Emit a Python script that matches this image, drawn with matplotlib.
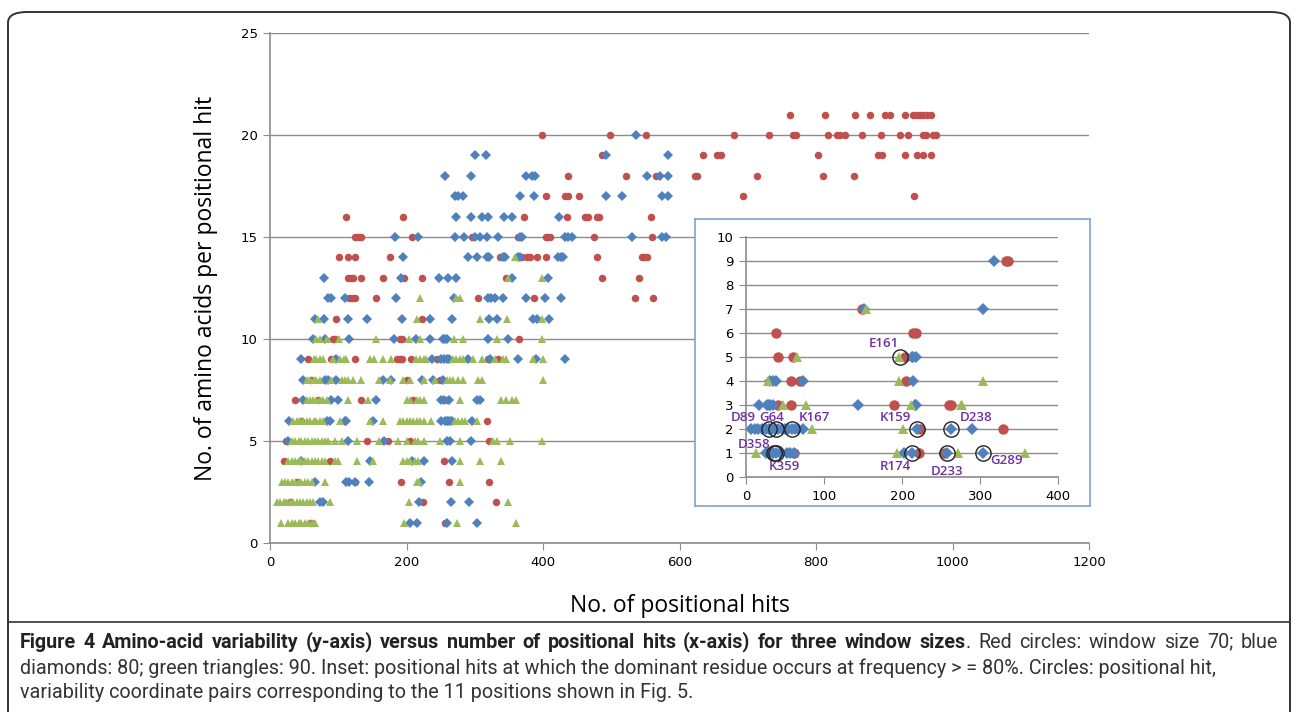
import matplotlib
matplotlib.use("Agg")
import matplotlib.pyplot as plt
from matplotlib.patches import FancyBboxPatch
from matplotlib.lines import Line2D
from matplotlib import font_manager

# ---- main chart data: x positions of points on each y level (amino acids per hit)
red_rows = {
    21: [762, 813, 857, 879, 901, 908, 930, 942, 948, 952, 957, 963, 968],
    20: [398, 498, 551, 680, 731, 766, 771, 818, 831, 835, 842, 867, 895, 923, 935, 957, 961, 971, 976],
    19: [486, 634, 655, 661, 803, 891, 897, 930, 948, 957, 968],
    18: [437, 522, 566, 623, 626, 713, 810, 856],
    17: [404, 432, 437, 453, 693, 944],
    16: [111, 195, 372, 435, 461, 466, 479, 482, 558],
    15: [125, 129, 134, 208, 296, 363, 404, 406, 410, 474, 559],
    14: [101, 114, 124, 176, 337, 369, 376, 381, 391, 404, 479, 545, 548, 552],
    13: [114, 118, 121, 133, 166, 197, 223, 346, 487, 541],
    12: [116, 120, 124, 156, 305, 387, 535, 561],
    11: [97, 223],
    10: [93, 95, 190, 194, 365],
    9: [56, 89, 125, 186, 190, 194, 207, 244, 319, 334],
    8: [60, 200, 249],
    7: [36, 70, 134, 210, 259],
    6: [45, 318],
    5: [24, 142, 173, 205, 321],
    4: [21, 88, 255],
    3: [40, 124, 192, 263, 321],
    2: [30, 224, 331],
    1: [60, 256],
}
blue_rows = {
    20: [536],
    19: [300, 316, 492, 583],
    18: [256, 294, 375, 384, 388, 552, 571, 583],
    17: [271, 276, 283, 366, 387, 492, 516, 574, 583],
    16: [273, 294, 311, 319, 343, 354, 423],
    15: [183, 217, 271, 284, 300, 308, 318, 334, 366, 369, 432, 437, 442, 530, 574, 580],
    14: [195, 290, 304, 318, 321, 341, 344, 363, 366, 422, 427, 430],
    13: [79, 192, 248, 261, 273, 354, 408],
    12: [85, 89, 110, 184, 269, 319, 324, 330, 342, 375, 403, 427],
    11: [66, 79, 114, 142, 194, 234, 267, 321, 333, 386, 391, 409],
    10: [63, 80, 116, 182, 214, 234, 253, 256, 260, 319, 349],
    9: [46, 97, 237, 251, 255, 259, 263, 290, 322, 363, 390, 432],
    8: [48, 81, 85, 97, 165, 178, 222, 239, 254],
    7: [49, 90, 100, 156, 251, 255, 262, 303, 308],
    6: [28, 83, 88, 110, 112, 151, 251, 256, 259, 261, 264, 266, 296],
    5: [27, 115, 167, 259, 264, 295],
    4: [45, 147, 208, 225, 266],
    3: [66, 111, 116, 124, 145, 221],
    2: [73, 78, 219, 265, 292],
    1: [205, 216, 260, 304],
}
green_rows = {
    14: [359],
    13: [349, 398],
    12: [220, 273, 278],
    11: [71, 216, 307, 347, 399],
    10: [68, 73, 84, 101, 156, 204, 220, 269, 283, 333, 399],
    9: [64, 68, 73, 78, 93, 103, 108, 112, 147, 152, 166, 178, 214, 220, 225, 228,
        268, 273, 278, 283, 298, 310, 329, 341, 346, 386, 400],
    8: [54, 59, 64, 68, 73, 90, 105, 110, 115, 122, 134, 159, 176, 195, 205, 225, 242,
        259, 264, 268, 276, 283, 305, 310, 400],
    7: [54, 59, 63, 68, 73, 78, 83, 115, 144, 200, 205, 215, 220, 225, 278, 339, 346, 354, 361],
    6: [34, 39, 44, 49, 54, 59, 64, 68, 73, 78, 102, 147, 165, 190, 195, 200, 205, 210,
        215, 220, 225, 236, 271, 276, 281, 286, 303],
    5: [32, 37, 42, 46, 51, 56, 61, 66, 71, 76, 81, 85, 95, 105, 128, 159, 187, 200, 212,
        217, 225, 249, 278, 327, 332, 352, 399],
    4: [27, 32, 37, 42, 46, 51, 56, 61, 66, 71, 76, 81, 95, 100, 128, 151, 195, 200, 205,
        212, 217, 278, 307, 338],
    3: [17, 22, 27, 32, 37, 42, 46, 51, 56, 61, 81, 215, 218, 278],
    2: [10, 15, 20, 24, 29, 34, 39, 44, 49, 54, 59, 63, 88, 204, 348],
    1: [16, 27, 32, 37, 42, 46, 51, 56, 61, 66, 196, 274, 360],
}

# ---- inset data (dominant residue frequency >= 80%)
inset_red = {9: [333, 336], 7: [149], 6: [39, 214, 218], 5: [41, 60, 204],
             4: [58, 69, 205], 3: [41, 58, 190, 260, 262], 2: [223, 329], 1: [61, 222, 254]}
inset_blue = {9: [318], 7: [151, 304], 5: [212, 214, 218], 4: [31, 35, 38, 73, 214],
              3: [17, 27, 29, 31, 34, 143, 216, 218],
              2: [7, 12, 16, 20, 25, 29, 33, 37, 41, 46, 50, 54, 59, 63, 67, 73, 219, 262, 290],
              1: [26, 30, 34, 38, 43, 52, 56, 61, 203, 213, 258, 303]}
inset_green = {7: [154], 5: [65, 196], 4: [28, 196, 304], 3: [47, 77, 211, 275, 277],
               2: [85, 201], 1: [13, 193, 271, 357]}

circle_x = [197, 29, 39, 59, 219, 263, 36, 38, 213, 258, 303]
circle_y = [5, 2, 2, 2, 2, 2, 1, 1, 1, 1, 1]
label_names = ["E161", "D89", "G64", "K167", "K159", "D238", "D358", "K359", "R174", "D233", "G289"]
label_x = [177, -4, 33, 87, 191, 295, 10, 49, 191, 257, 334]
label_y = [5.55, 2.5, 2.5, 2.5, 2.5, 2.5, 1.35, 0.45, 0.45, 0.25, 0.7]

RED, BLUE, GREEN = "#C0504D", "#4F81BD", "#9BBB59"
GRID = "#8C8C8C"
PURPLE = "#7030A0"


def flatten(rows):
    xs, ys = [], []
    for y, xlist in rows.items():
        xs += xlist
        ys += [y] * len(xlist)
    return xs, ys


def pick_font(names, default="DejaVu Sans"):
    avail = {f.name for f in font_manager.fontManager.ttflist}
    for n in names:
        if n in avail:
            return n
    return default


label_font = pick_font(["Open Sans", "Lato", "DejaVu Sans"])
caption_font = pick_font(["Roboto", "Lato", "Open Sans"])

fig = plt.figure(figsize=(12.95, 7.12), dpi=100)
W, H = 1295, 712

# outer frame and caption separator
frame = FancyBboxPatch((8 / W, -0.05), 1282 / W, (712 - 12) / H + 0.05,
                       boxstyle="round,pad=0,rounding_size=0.015", transform=fig.transFigure,
                       facecolor="none", edgecolor="#333333", linewidth=1.4)
fig.patches.append(frame)
fig.lines.append(Line2D([8 / W, 1290 / W], [(712 - 622) / H] * 2, transform=fig.transFigure,
                        color="#333333", linewidth=1.2))

# main axes
ax = fig.add_axes([270 / W, (712 - 543) / H, 819 / W, 510 / H])
for rows, mk, col, ms in [(red_rows, "o", RED, 5.4), (blue_rows, "D", BLUE, 4.6),
                          (green_rows, "^", GREEN, 6.2)]:
    xs, ys = flatten(rows)
    ax.plot(xs, ys, linestyle="none", marker=mk, color=col, markersize=ms, markeredgewidth=0)

ax.set_xlim(0, 1200)
ax.set_ylim(0, 25)
ax.set_xticks(range(0, 1201, 200))
ax.set_yticks(range(0, 26, 5))
ax.grid(axis="y", color=GRID, linewidth=1)
ax.set_axisbelow(True)
for s in ["top", "right"]:
    ax.spines[s].set_visible(False)
for s in ["left", "bottom"]:
    ax.spines[s].set_color(GRID)
    ax.spines[s].set_linewidth(1.2)
ax.tick_params(length=5, color=GRID, labelsize=9.5, pad=4)
ax.set_xlabel("No. of positional hits", fontsize=16.5, family=label_font, labelpad=18)
ax.set_ylabel("No. of amino acids per positional hit", fontsize=16.5, family=label_font, labelpad=16)

# inset frame
box = fig.add_axes([695 / W, (712 - 506) / H, 395 / W, 287 / H], zorder=2)
box.set_xticks([])
box.set_yticks([])
for s in box.spines.values():
    s.set_color("#7FA3CF")
    s.set_linewidth(1.2)

ins = fig.add_axes([746 / W, (712 - 477.3) / H, 312.3 / W, 240.6 / H], zorder=3)
ins.patch.set_alpha(0)
for rows, mk, col, ms in [(inset_red, "o", RED, 7.5), (inset_blue, "D", BLUE, 6.2),
                          (inset_green, "^", GREEN, 7.0)]:
    xs, ys = flatten(rows)
    ins.plot(xs, ys, linestyle="none", marker=mk, color=col, markersize=ms, markeredgewidth=0)
ins.plot(circle_x, circle_y, linestyle="none", marker="o", markersize=11,
         markerfacecolor="none", markeredgecolor="#222222", markeredgewidth=1.0)
for name, lx, ly in zip(label_names, label_x, label_y):
    ins.text(lx, ly, name, color=PURPLE, fontsize=9.5, ha="center", va="center",
             family=label_font, fontweight="semibold")
ins.set_xlim(0, 400)
ins.set_ylim(0, 10)
ins.set_xticks(range(0, 401, 100))
ins.set_yticks(range(0, 11))
ins.grid(axis="y", color=GRID, linewidth=1)
ins.set_axisbelow(True)
for s in ["top", "right"]:
    ins.spines[s].set_visible(False)
for s in ["left", "bottom"]:
    ins.spines[s].set_color(GRID)
    ins.spines[s].set_linewidth(1.2)
ins.tick_params(length=5, color=GRID, labelsize=9.5, pad=4)

# caption (first line is justified, bold title then regular text)
bold_part = ("Figure 4 Amino-acid variability (y-axis) versus number of positional hits "
             "(x-axis) for three window sizes")
rest_1 = ". Red circles: window size 70; blue"
line_2 = ("diamonds: 80; green triangles: 90. Inset: positional hits at which the dominant "
          "residue occurs at frequency > = 80%. Circles: positional hit,")
line_3 = "variability coordinate pairs corresponding to the 11 positions shown in Fig. 5."
y1, y2, y3 = (712 - 642) / H, (712 - 668) / H, (712 - 693) / H
renderer = fig.canvas.get_renderer()

# size the caption font so that the second line spans its width in the reference
t2 = fig.text(20 / W, y2, line_2, fontsize=13, family=caption_font, va="center", color="#333333")
cap_size = 13 * 1195 / t2.get_window_extent(renderer).width
t2.set_fontsize(cap_size)
fig.text(20 / W, y3, line_3, fontsize=cap_size, family=caption_font, va="center", color="#333333")

tokens = [(w, "bold", True) for w in bold_part.split(" ")]
rest_words = rest_1.split(" ")
tokens.append((rest_words[0], "normal", False))
tokens += [(w, "normal", True) for w in rest_words[1:]]

word_texts = []
for w, weight, _ in tokens:
    t = fig.text(0, y1, w, fontsize=cap_size, fontweight=weight, family=caption_font,
                 va="center", color="#222222" if weight == "bold" else "#333333")
    word_texts.append(t)
widths = [t.get_window_extent(renderer).width for t in word_texts]
n_gaps = sum(1 for _, _, sp in tokens[1:] if sp)
gap = (1278 - 20 - sum(widths)) / n_gaps
x = 20.0
for i, (t, wdt) in enumerate(zip(word_texts, widths)):
    if i > 0 and tokens[i][2]:
        x += gap
    t.set_x(x / W)
    x += wdt

fig.savefig("out.png", dpi=100)
